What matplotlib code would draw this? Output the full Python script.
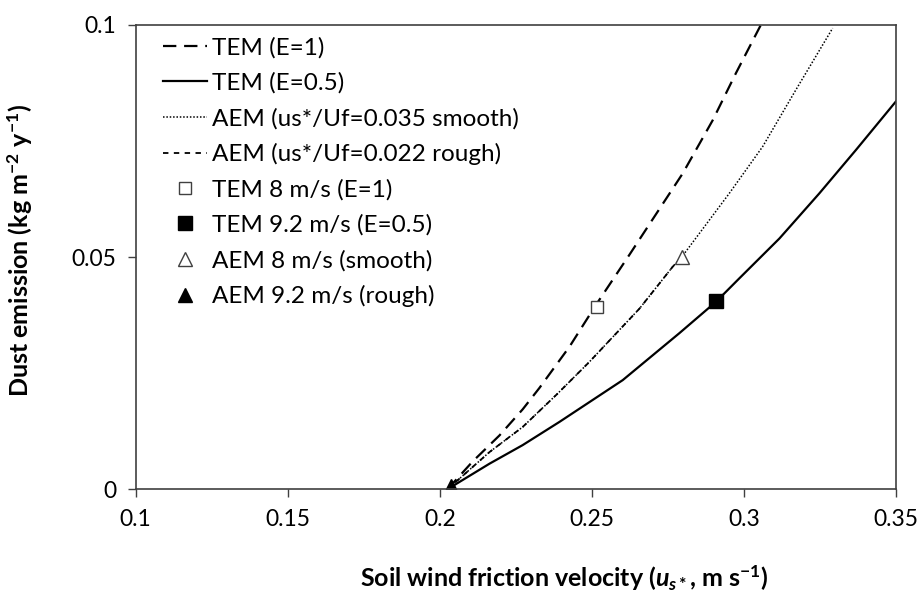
import matplotlib
matplotlib.use("Agg")
import matplotlib.pyplot as plt

plt.rcParams['font.family'] = ['Lato', 'DejaVu Sans']
plt.rcParams['mathtext.fontset'] = 'custom'
plt.rcParams['mathtext.rm'] = 'Lato:bold'
plt.rcParams['mathtext.it'] = 'Lato:bold:italic'
plt.rcParams['mathtext.bf'] = 'Lato:bold'

# curves (friction velocity, dust emission)
tem1_x = [0.2025, 0.2108, 0.2196, 0.2272, 0.2327, 0.2426, 0.2513, 0.2623, 0.2798, 0.2897, 0.2973, 0.3055]
tem1_y = [0.0, 0.0060, 0.0116, 0.0172, 0.0218, 0.0307, 0.0397, 0.0505, 0.0680, 0.0795, 0.0896, 0.1]

tem05_x = [0.2025, 0.2163, 0.2272, 0.2393, 0.2601, 0.2787, 0.2908, 0.2984, 0.3116, 0.3247, 0.3368, 0.35]
tem05_y = [0.0, 0.0055, 0.0095, 0.0145, 0.0235, 0.0336, 0.0404, 0.0454, 0.0540, 0.0637, 0.0731, 0.0836]

aem_s_x = [0.2025, 0.2163, 0.2272, 0.2387, 0.2491, 0.2656, 0.2765, 0.2796, 0.2886, 0.2951, 0.3061, 0.3170, 0.3291]
aem_s_y = [0.0, 0.0080, 0.0134, 0.0206, 0.0274, 0.0389, 0.0479, 0.0501, 0.0580, 0.0637, 0.0738, 0.0860, 0.0993]

aem_r_x = [0.2025, 0.2163, 0.2272, 0.2387, 0.2491, 0.2656, 0.2765, 0.2796]
aem_r_y = [0.0, 0.0080, 0.0134, 0.0206, 0.0274, 0.0389, 0.0479, 0.0501]

# single points
pt_tem8 = (0.2515, 0.0392)
pt_tem92 = (0.2908, 0.0405)
pt_aem8 = (0.2796, 0.0501)
pt_aem92 = (0.2035, 0.0008)

fig, ax = plt.subplots(figsize=(9.23, 5.93), dpi=100)
fig.subplots_adjust(left=0.147, right=0.971, top=0.958, bottom=0.175)

ax.plot(tem1_x, tem1_y, color='k', lw=1.6, dashes=(6, 3.5), label='TEM (E=1)')
ax.plot(tem05_x, tem05_y, color='k', lw=1.6, label='TEM (E=0.5)')
ax.plot(aem_s_x, aem_s_y, color='k', lw=1.1, dashes=(1, 1.2), label='AEM (us*/Uf=0.035 smooth)')
ax.plot(aem_r_x, aem_r_y, color='k', lw=1.3, dashes=(3, 3), label='AEM (us*/Uf=0.022 rough)')

ax.plot(*pt_tem8, ls='none', marker='s', ms=8, mfc='white', mec='#404040', mew=1, label='TEM 8 m/s (E=1)')
ax.plot(*pt_tem92, ls='none', marker='s', ms=10, mfc='k', mec='k', label='TEM 9.2 m/s (E=0.5)')
ax.plot(*pt_aem8, ls='none', marker='^', ms=10, mfc='white', mec='#404040', mew=1, label='AEM 8 m/s (smooth)')
ax.plot(*pt_aem92, ls='none', marker='^', ms=10, mfc='k', mec='k', label='AEM 9.2 m/s (rough)')

ax.set_xlim(0.1, 0.35)
ax.set_ylim(0, 0.1)
ax.set_xticks([0.1, 0.15, 0.2, 0.25, 0.3, 0.35])
ax.set_xticklabels(['0.1', '0.15', '0.2', '0.25', '0.3', '0.35'])
ax.set_yticks([0, 0.05, 0.1])
ax.set_yticklabels(['0', '0.05', '0.1'])
ax.tick_params(labelsize=16.5, direction='out', length=6, width=1, color='#404040', pad=8)

for s in ax.spines.values():
    s.set_color('#404040')
    s.set_linewidth(1.2)

ax.set_xlabel(r'Soil wind friction velocity ($u_{s*}$, m s$^{\mathrm{-1}}$)',
              fontsize=18, fontweight='bold', va='center')
ax.xaxis.set_label_coords(0.564, -0.192)
ax.set_ylabel(r'Dust emission (kg m$^{\mathrm{-2}}$ y$^{\mathrm{-1}}$)',
              fontsize=18, fontweight='bold', va='center')
ax.yaxis.set_label_coords(-0.152, 0.515)

ax.legend(loc='upper left', frameon=False, fontsize=17.5, handlelength=1.8,
          labelspacing=0.57, handletextpad=0.2, borderaxespad=0.1,
          bbox_to_anchor=(0.02, 1.0))

fig.savefig('out.png', dpi=100)
